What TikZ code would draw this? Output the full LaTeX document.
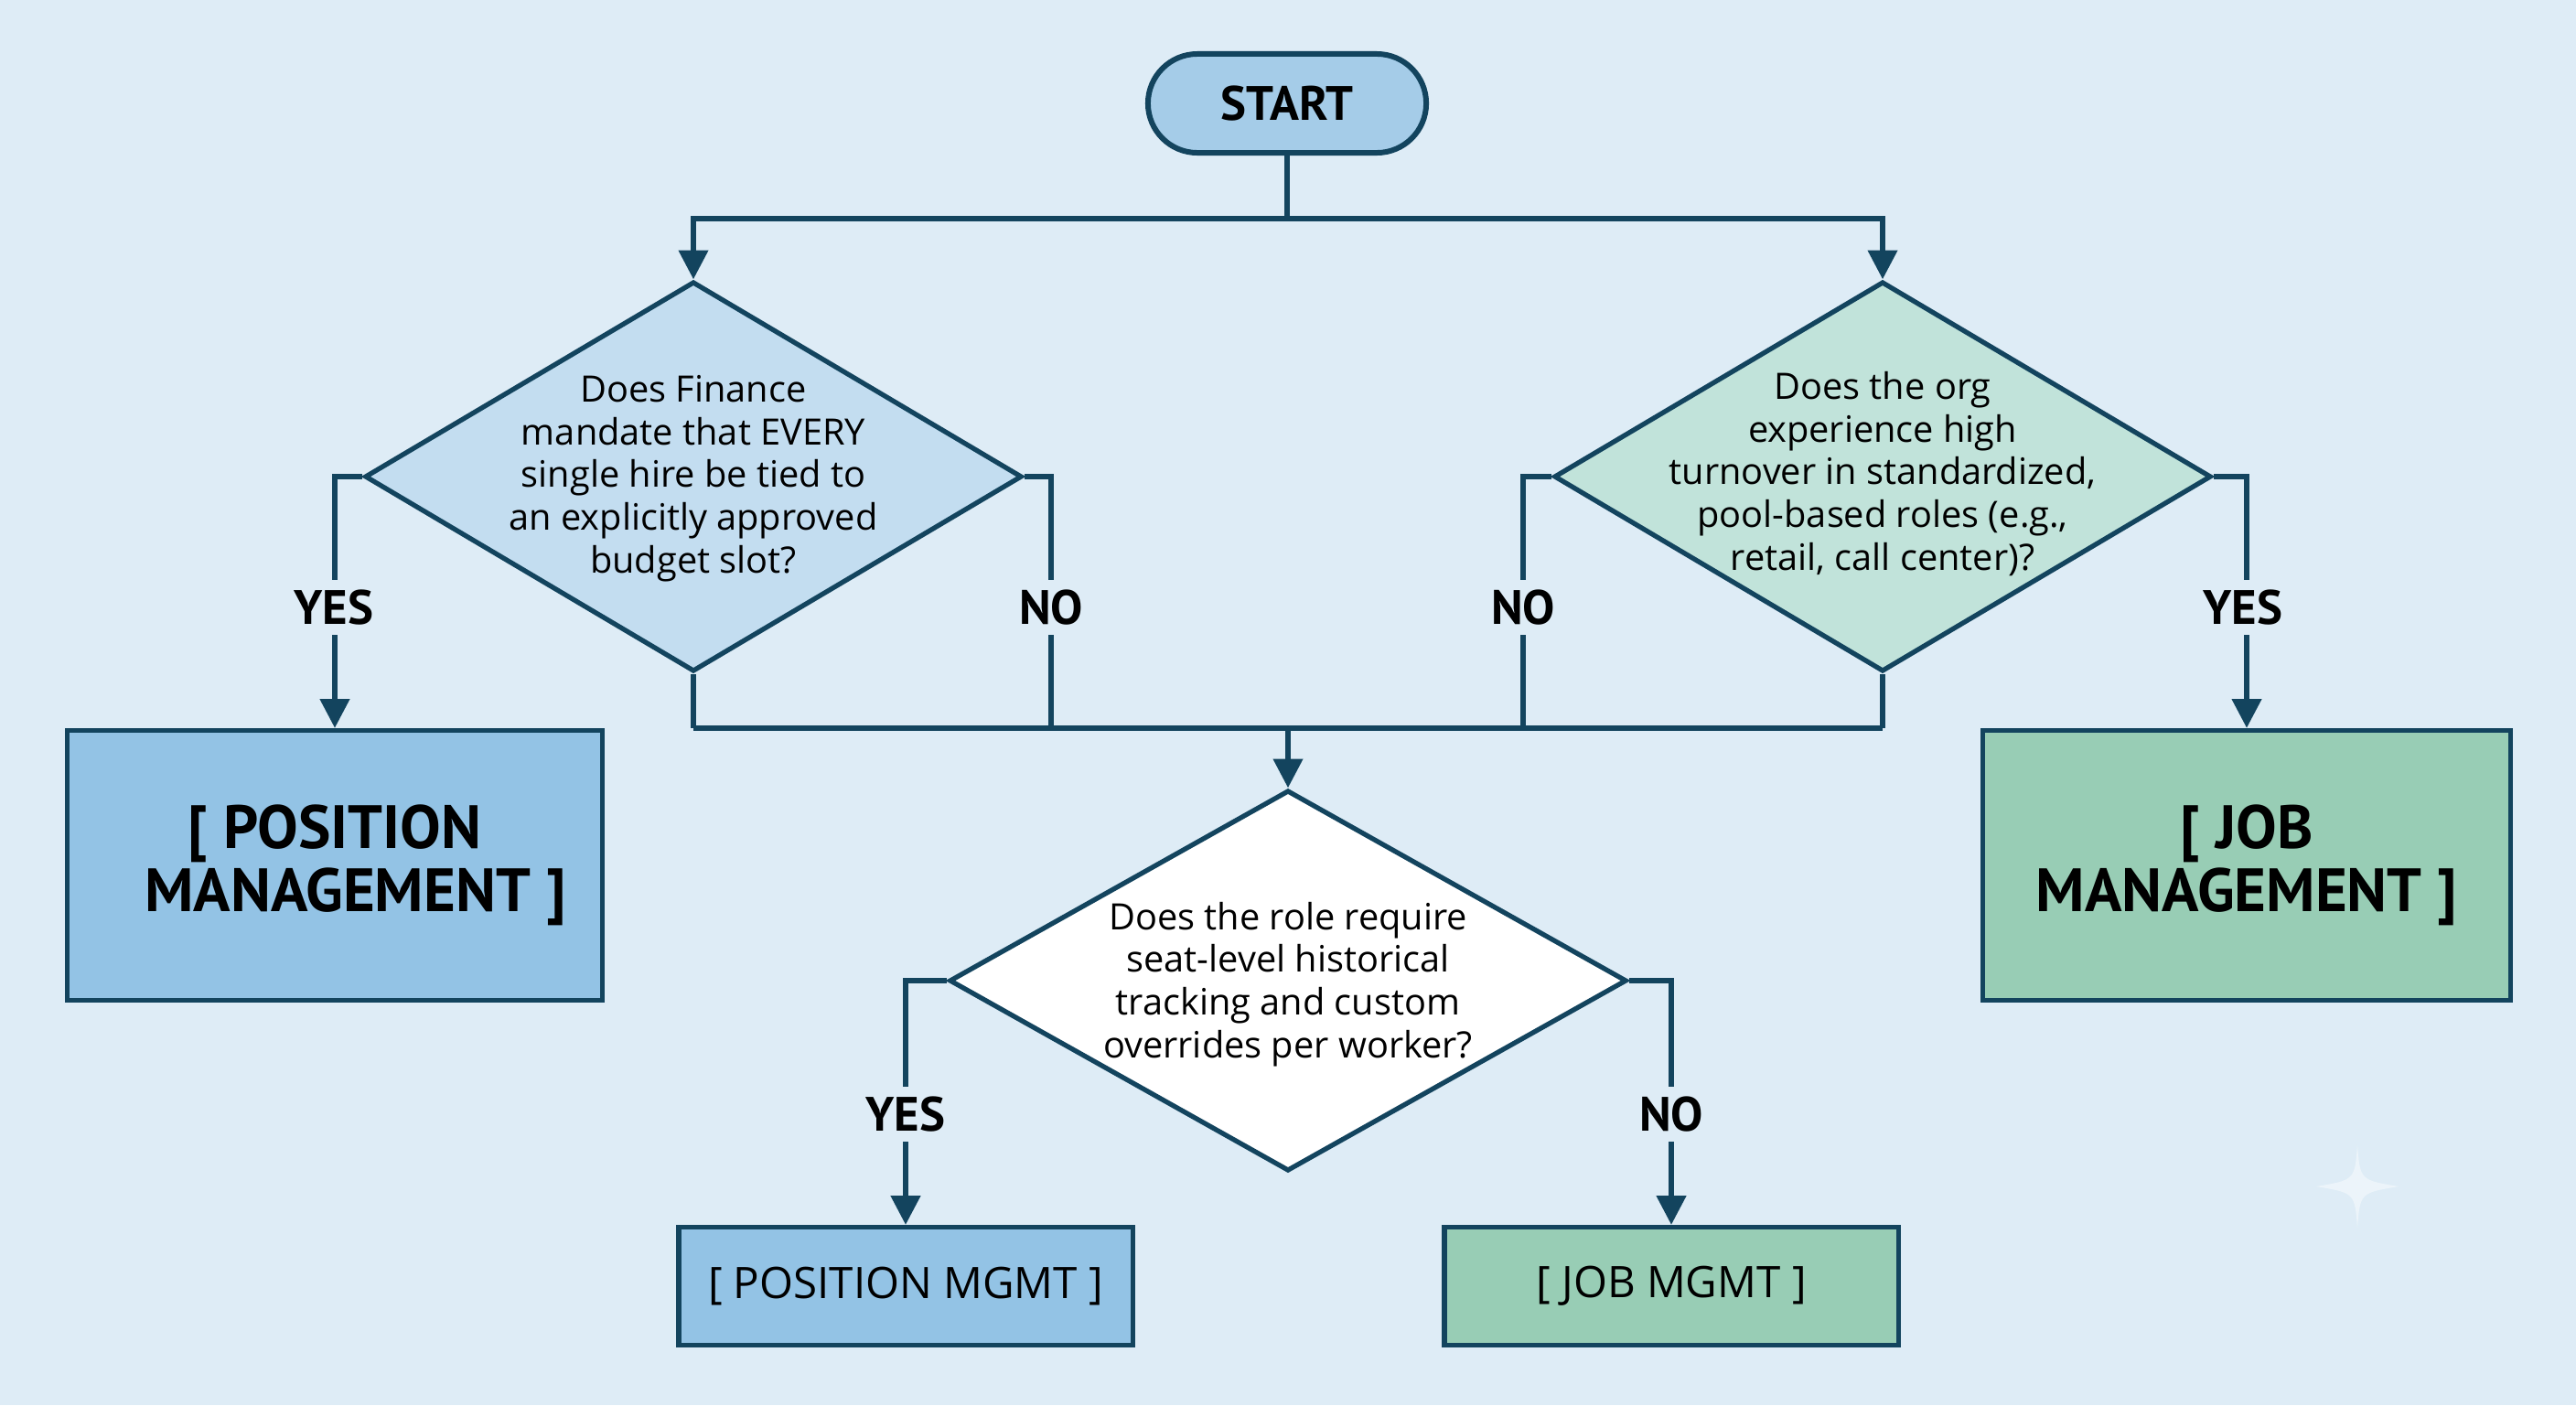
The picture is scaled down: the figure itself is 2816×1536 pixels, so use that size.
\documentclass[tikz,border=0pt]{standalone}
\usepackage{fontspec}
\setmainfont{Open Sans}
\newfontfamily\lblfont{PT Sans}
\usetikzlibrary{shapes.geometric,arrows.meta}
\definecolor{bg}{HTML}{DEECF6}
\definecolor{ln}{HTML}{13445E}
\definecolor{startfill}{HTML}{A5CCE8}
\definecolor{dAfill}{HTML}{C3DDF0}
\definecolor{dBfill}{HTML}{C1E3DA}
\definecolor{posfill}{HTML}{93C3E5}
\definecolor{jobfill}{HTML}{98CDB5}
\begin{document}
\begin{tikzpicture}[x=0.01cm,y=-0.01cm,
  conn/.style={draw=ln, line width=1.5pt},
  arr/.style={conn, -{Triangle[width=9pt,length=9pt]}},
  dia/.style={diamond, draw=ln, line width=1.5pt, inner sep=0pt},
  qtext/.style={align=center, text=black, font=\fontsize{11.3}{13.3}\selectfont},
  yn/.style={fill=bg, text=black, inner sep=3pt, font=\lblfont\bfseries\fontsize{15}{18}\selectfont},
  bigbox/.style={rectangle, draw=ln, line width=1.5pt, minimum width=5.85cm, minimum height=2.95cm, align=center, font=\lblfont\bfseries\fontsize{19}{19.5}\selectfont},
  smallbox/.style={rectangle, draw=ln, line width=1.5pt, minimum width=4.96cm, minimum height=1.29cm, font=\fontsize{13.5}{15}\selectfont}
]
\useasboundingbox (0,0) rectangle (2816,1536);
\fill[bg] (0,0) rectangle (2816,1536);

% nodes
\node[rectangle, rounded corners=0.54cm, draw=ln, line width=1.7pt, fill=startfill,
      minimum width=3.04cm, minimum height=1.08cm,
      font=\lblfont\bfseries\fontsize{15}{18}\selectfont] (start) at (1407,113) {START};

\node[dia, fill=dAfill, minimum width=7.18cm, minimum height=4.26cm] (d1) at (758,521) {};
\node[qtext] (d1t) at (758,523) {Does Finance\\mandate that EVERY\\single hire be tied to\\an explicitly approved\\budget slot?};

\node[dia, fill=dBfill, minimum width=7.18cm, minimum height=4.26cm] (d2) at (2058,521) {};
\node[qtext] (d2t) at (2058,518) {Does the org\\experience high\\turnover in standardized,\\pool-based roles (e.g.,\\retail, call center)?};

\node[dia, fill=white, minimum width=7.40cm, minimum height=4.16cm] (d3) at (1408,1072) {};
\node[qtext] (d3t) at (1408,1076) {Does the role require\\seat-level historical\\tracking and custom\\overrides per worker?};

\node[bigbox, fill=posfill] (pm) at (366,946) {[ POSITION\\\hspace*{0.45cm}MANAGEMENT ]};
\node[bigbox, fill=jobfill, minimum width=5.77cm] (jm) at (2456,946) {[ JOB\\MANAGEMENT ]};

\node[smallbox, fill=posfill] (pm2) at (990,1406) {[ POSITION MGMT ]};
\node[smallbox, fill=jobfill] (jm2) at (1827,1406) {[ JOB MGMT ]};

% junction coordinates
\coordinate (sp) at (1407,239);
\coordinate (jl) at (758,796);
\coordinate (jr) at (2058,796);
\coordinate (jc) at (1408,796);
\coordinate (n1) at (1149,796);
\coordinate (n2) at (1665,796);

% connectors
\draw[conn] (start.south) -- (sp);
\draw[arr] (sp) -| (d1.north);
\draw[arr] (sp) -| (d2.north);

\draw[arr] (d1.west) -| (pm.north);
\draw[conn] (d1.east) -| (n1);
\draw[conn] (d1.south) -- (jl);
\draw[conn] (jl) -- (jr);
\draw[conn] (d2.west) -| (n2);
\draw[conn] (d2.south) -- (jr);
\draw[arr] (d2.east) -| (jm.north);

\draw[arr] (jc) -- (d3.north);
\draw[arr] (d3.west) -| (pm2.north);
\draw[arr] (d3.east) -| (jm2.north);

% branch labels
\node[yn] (y1) at (365,664) {YES};
\node[yn] (no1) at (1149,664) {NO};
\node[yn] (no2) at (1665,664) {NO};
\node[yn] (y2) at (2452,664) {YES};
\node[yn] (y3) at (990,1218) {YES};
\node[yn] (no3) at (1827,1218) {NO};

% faint sparkle mark
\fill[white, opacity=0.45] (2577,1252) .. controls (2580,1290) .. (2622,1297)
  .. controls (2580,1304) .. (2577,1342)
  .. controls (2574,1304) .. (2532,1297)
  .. controls (2574,1290) .. (2577,1252) -- cycle;
\end{tikzpicture}
\end{document}
